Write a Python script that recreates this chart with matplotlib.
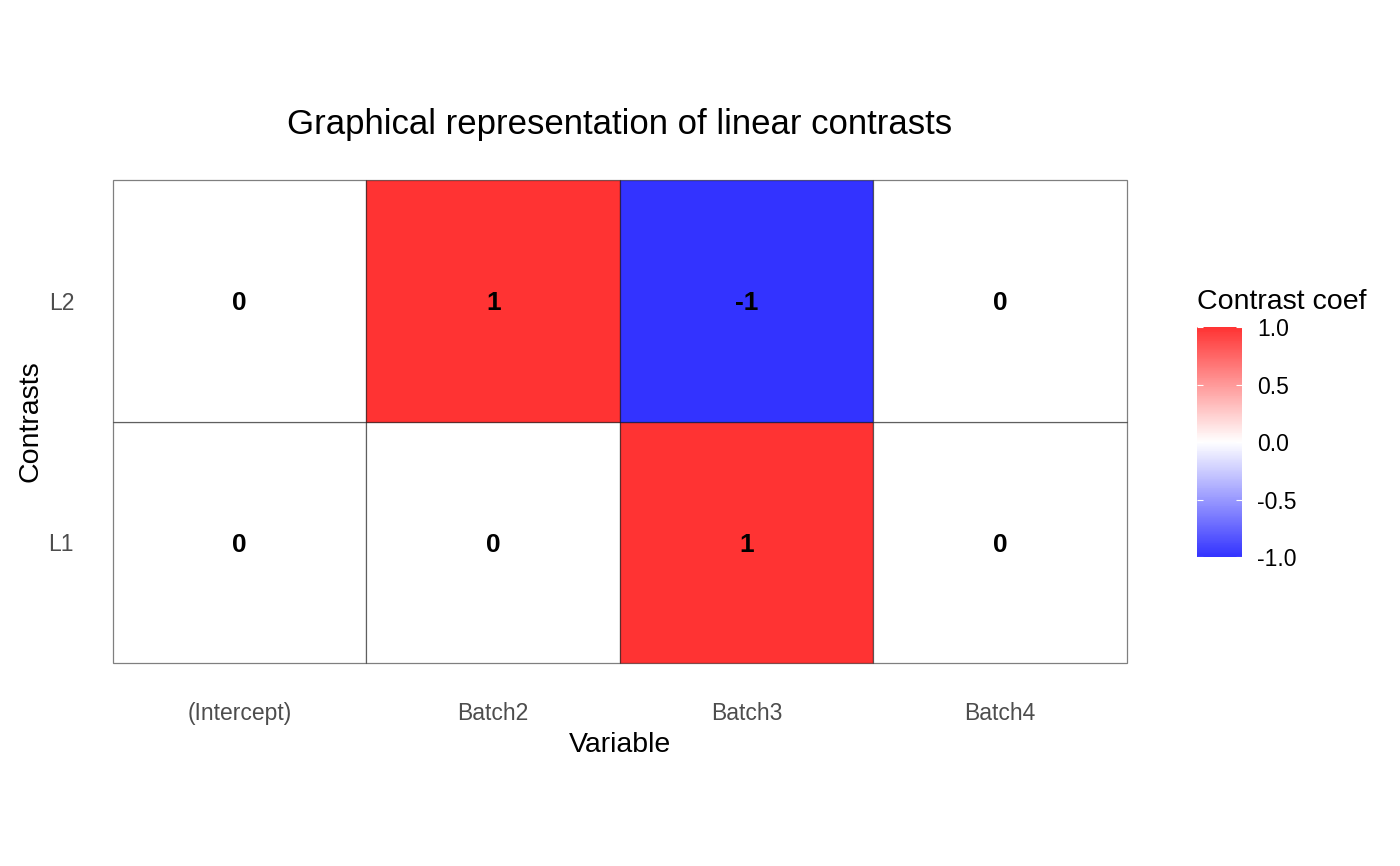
import numpy as np
import matplotlib.pyplot as plt
from matplotlib.colors import LinearSegmentedColormap, Normalize
import matplotlib.cm as cm

plt.rcParams['font.family'] = ['Liberation Sans', 'DejaVu Sans']

variables = ['(Intercept)', 'Batch2', 'Batch3', 'Batch4']
contrasts = ['L1', 'L2']
L1 = [0, 0, 1, 0]
L2 = [0, 1, -1, 0]
coefs = np.array([L1, L2])

# blue-white-red, as drawn with alpha 0.8 over white
cmap = LinearSegmentedColormap.from_list('bwr08', ['#3333FF', '#FFFFFF', '#FF3333'], N=255)
norm = Normalize(vmin=-1, vmax=1)

fig = plt.figure(figsize=(14, 8.66), dpi=100)
ax = fig.add_axes([0.0807, 0.2344, 0.7243, 0.5577])

for i in range(len(contrasts)):
    for j in range(len(variables)):
        v = coefs[i, j]
        col = '#FFFFFF' if v == 0 else cmap(norm(v))
        ax.add_patch(plt.Rectangle((j - 0.5, i - 0.5), 1, 1, facecolor=col,
                                   edgecolor=(0, 0, 0, 0.5), linewidth=0.9, clip_on=False))
        ax.text(j, i, f'{v}', ha='center', va='center_baseline', fontsize=19, fontweight='bold')

ax.set_xlim(-0.5, len(variables) - 0.5)
ax.set_ylim(-0.5, len(contrasts) - 0.5)
ax.set_xticks(range(len(variables)))
ax.set_xticklabels(variables)
ax.set_yticks(range(len(contrasts)))
ax.set_yticklabels(contrasts)
ax.tick_params(length=0, labelsize=16.5, labelcolor='#4D4D4D')
ax.tick_params(axis='x', pad=28)
ax.tick_params(axis='y', pad=28)
for s in ax.spines.values():
    s.set_visible(False)
ax.set_xlabel('Variable', fontsize=20.5, labelpad=5)
ax.set_ylabel('Contrasts', fontsize=20.5, labelpad=4)
ax.set_title('Graphical representation of linear contrasts', fontsize=25, pad=33)

cax = fig.add_axes([0.855, 0.3568, 0.0321, 0.2656])
cb = fig.colorbar(cm.ScalarMappable(norm=norm, cmap=cmap), cax=cax)
cb.outline.set_visible(False)
cb.set_ticks([-1, -0.5, 0, 0.5, 1])
cb.set_ticklabels(['-1.0', '-0.5', '0.0', '0.5', '1.0'])
cax.tick_params(direction='in', color='white', length=4, width=0.8, left=True, right=True,
                labelsize=16.5, pad=11)
cax.set_title('Contrast coef', fontsize=20.5, loc='left', pad=13)

fig.savefig('out.png', dpi=100)
